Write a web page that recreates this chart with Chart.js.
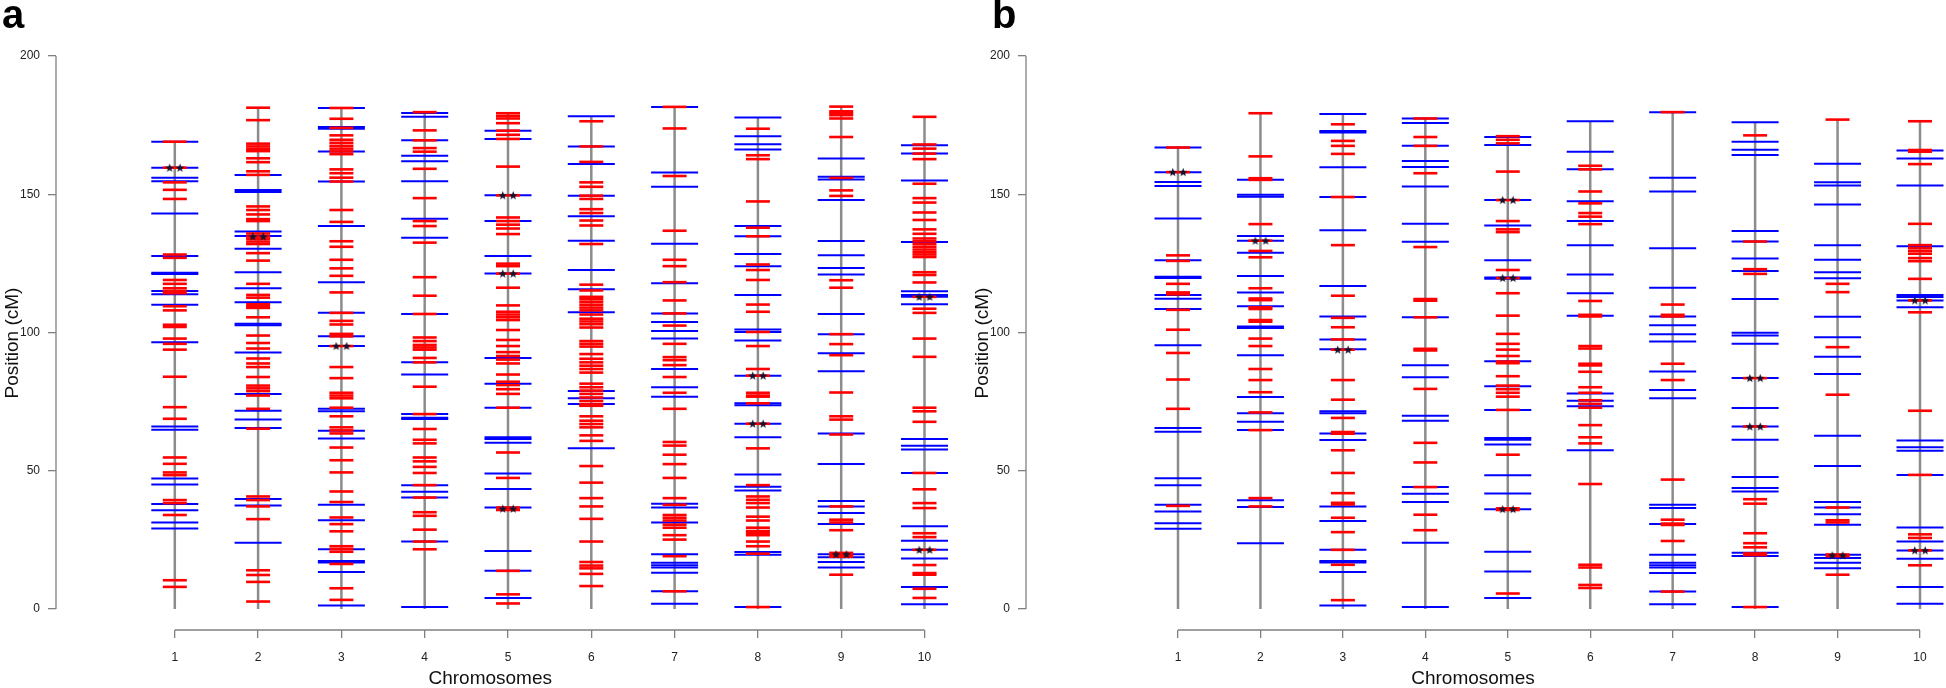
<!DOCTYPE html>
<html><head><meta charset="utf-8">
<script src="https://cdn.jsdelivr.net/npm/chart.js@4.4.1/dist/chart.umd.min.js"></script>
<style>
html,body{margin:0;padding:0;background:#fff;}
#wrap{position:relative;width:1946px;height:688px;overflow:hidden;background:#fff;}
canvas{position:absolute;top:0;}
.tag{position:absolute;font-family:'Liberation Sans',Arial,sans-serif;font-weight:bold;font-size:40px;line-height:40px;color:#000;}
</style></head><body>
<div id="wrap">
<canvas id="ca" width="950" height="688" style="left:0px"></canvas>
<canvas id="cb" width="996" height="688" style="left:950px"></canvas>
<div class="tag" style="left:2px;top:-6px">a</div>
<div class="tag" style="left:992px;top:-6px">b</div>
</div>
<script>
// ---------------- data ----------------
const chromosomes = [1, 2, 3, 4, 5, 6, 7, 8, 9, 10];
const xTickLabels = ['1', '2', '3', '4', '5', '6', '7', '8', '9', '10'];
const yTickValues = [0, 50, 100, 150, 200];
const yTickLabels = ['0', '50', '100', '150', '200'];
const xTitle = 'Chromosomes';
const yTitle = 'Position (cM)';

// Panel a: marker positions (cM) per chromosome
const aBlue = [
  [169, 159.6, 156, 154.7, 143, 127.7, 121.6, 121.2, 115, 113.8, 110, 96.5, 66, 64.8, 47.2, 45, 38, 35.7, 31.3, 29.1],
  [157, 151.5, 150.8, 136.5, 134.9, 130.3, 121.8, 116, 110.9, 103.2, 102.6, 92.8, 77.8, 71.7, 68.5, 65.5, 39.8, 37.4, 24],
  [181.2, 174.3, 173.7, 165.5, 154.6, 138.5, 118.2, 107.1, 98.6, 95.1, 72.4, 71.5, 64.5, 61.7, 37.7, 32.1, 21.6, 17.4, 16.8, 13.4, 1.3],
  [179.4, 178, 169.5, 163.9, 161.9, 154.7, 141.1, 134.3, 106.7, 89.2, 84.8, 70.5, 69.2, 68.7, 44.8, 42.4, 40.3, 24.4, 0.7],
  [173, 170, 149.6, 140.3, 127.7, 121.3, 90.8, 81.5, 72.8, 62.1, 61.5, 60.1, 49, 43.4, 36.7, 21, 13.8, 4],
  [178.2, 167.3, 160.9, 149.5, 142, 133.2, 122.6, 115.6, 107.3, 78.8, 76.2, 74.1, 58.1],
  [181.6, 157.9, 152.7, 132.1, 117.8, 106.9, 103.8, 100.5, 97.8, 86.8, 80.2, 76.8, 38.1, 36.7, 31.3, 19.8, 16.7, 15.8, 15, 13.1, 6.4, 1.9],
  [177.8, 171, 168.1, 166.2, 138.5, 134.8, 128.4, 124, 113.6, 101.1, 100.2, 97.1, 84.4, 74.4, 73.7, 67, 62.1, 48.6, 44.2, 42.9, 20.6, 19.6, 0.7],
  [162.9, 156.3, 155.3, 147.9, 133.1, 127.9, 123.3, 121, 106.7, 99.4, 92.5, 86, 63.5, 52.4, 39.1, 37.1, 34.7, 30.7, 19.8, 18.7, 17, 15],
  [167.7, 164.7, 155, 132.7, 114.9, 113.6, 112.9, 110.2, 61.5, 59, 57.7, 49.2, 29.9, 24.7, 21.4, 18.3, 8, 1.7]
];
const aRed = [
  [169, 159.6, 154.3, 151.6, 148.3, 128.2, 127, 119, 117.6, 116, 115, 114.2, 109.5, 108, 102.8, 102, 97.8, 95.9, 93.8, 84, 73, 68.8, 54.8, 52.5, 49.4, 48.4, 39.4, 38.3, 34, 10.4, 8],
  [181.3, 176.8, 168.3, 167.3, 166.4, 165.6, 163, 161.6, 158.3, 157, 145.6, 144.3, 142.7, 141, 140.3, 135.8, 134.7, 133.9, 132.9, 132, 128.7, 126, 117.6, 113.6, 112.6, 110.2, 109.5, 108.9, 105.5, 98.9, 96.2, 94.2, 90.6, 88.8, 87.5, 83.9, 80.8, 79.8, 78.8, 77.2, 72.4, 65.2, 40.7, 39.4, 37.1, 32.5, 14, 12.3, 9.8, 2.7],
  [181.2, 177.3, 174, 171.3, 169.7, 168.6, 167.5, 166.5, 165.5, 164.5, 159, 157.6, 156, 154.6, 144.3, 140, 133, 131, 126.3, 123.2, 120.5, 114.5, 107.1, 104.2, 102.9, 99.5, 98.6, 95.1, 87.5, 83.5, 78.2, 77.2, 76.2, 72.8, 69.7, 65.7, 64.6, 63.5, 58.4, 53.8, 49.4, 42.5, 38.7, 33.1, 30.7, 28.1, 22.7, 21.7, 20.7, 16.3, 7.5, 3.3],
  [179.7, 173.1, 169.5, 166.7, 165.4, 159.2, 148.6, 140.3, 138.5, 132.5, 120, 113.3, 106.7, 98.2, 96.9, 95.5, 94.6, 93.8, 90.8, 89.2, 80.4, 70.5, 65.1, 61.2, 59.9, 54.8, 53.4, 51.4, 49.2, 44.8, 40.3, 35, 33.7, 28.7, 24.4, 21.6],
  [179.3, 178.3, 177.4, 175.7, 173, 171.5, 170, 160, 149.6, 141.6, 140.3, 139, 137.6, 135.6, 124.9, 124, 121.3, 116.2, 109.8, 107.5, 106.5, 105.5, 104.5, 100.9, 97.3, 95.1, 92.9, 91.5, 90.2, 88.8, 84.8, 82.2, 81, 79.5, 77.8, 72.8, 56.6, 47.4, 36.7, 35.8, 13.8, 5.3, 2],
  [176.4, 167.3, 161.7, 154.3, 152.7, 149.5, 148.3, 144.6, 143.2, 140.5, 138.7, 132, 117.3, 115.2, 112.9, 112, 111, 110, 109, 108, 106.5, 105, 104, 103, 101.8, 96.9, 95.9, 94.9, 92.2, 90.5, 89.2, 88, 86.8, 85.5, 81.5, 80.2, 79, 77.8, 76.5, 75.2, 74, 73.5, 69.7, 68.1, 66.9, 65.7, 62.8, 60.8, 51.7, 45.7, 40.1, 37.1, 32.6, 24.4, 17, 15.7, 14.7, 12.7, 8.3],
  [181.6, 173.8, 156.6, 136.8, 126.3, 124, 118.2, 111.6, 106.9, 102.5, 95.9, 91.1, 90, 88.2, 83.9, 78.2, 72.4, 60.4, 59.1, 55.8, 52.4, 47.4, 40.1, 37.7, 34, 33, 32, 30.5, 29.4, 26.7, 25.1, 19.1, 6.4],
  [173.7, 164.1, 162.7, 147.4, 137.9, 134.8, 124.6, 122.6, 119, 110.1, 107.5, 100.2, 95.1, 86.8, 84.4, 78.2, 77.2, 76.8, 74.4, 67, 58.1, 44.8, 40.7, 39.5, 38.3, 36.7, 33.4, 32, 29.4, 28.2, 27.5, 26.7, 24.4, 22.7, 20, 0.7],
  [181.7, 180, 179.3, 178.6, 177.4, 170.7, 155.9, 151.4, 149.4, 118.9, 116.2, 99.4, 95.8, 91.8, 78.3, 69.7, 68.5, 63.1, 37.1, 32.3, 31.3, 28.5, 20.3, 19.5, 18.9, 12.4],
  [178, 168, 166.5, 164.7, 162.7, 153.8, 148.6, 147, 143.4, 140.7, 137.3, 135.7, 134, 133, 132, 131, 130, 129, 128.2, 127.3, 121.8, 120.8, 118.1, 112.9, 108.6, 107.1, 97.8, 91.2, 72.8, 71.5, 67.7, 49.2, 43.3, 38.3, 36.5, 27.4, 26, 21.4, 15.9, 13, 12.4, 7.3, 4]
];
const aStars = [[159.6], [134.7], [95.1], [], [149.6, 121.3, 36.3], [], [], [84.4, 67], [19.8], [112.9, 21.4]];

// Panel b
const bBlue = [
  [166.9, 158, 154.4, 153, 141.2, 126.1, 120.2, 119.7, 113.6, 112.2, 108.5, 95.4, 65.5, 64.1, 47.3, 44.8, 37.7, 35.3, 31, 29],
  [155.2, 149.8, 149.1, 134.9, 133.2, 128.8, 120.4, 114.5, 109.5, 102.2, 101.6, 91.8, 76.7, 70.8, 67.7, 64.7, 39.3, 36.9, 23.8],
  [179, 172.9, 172.3, 159.8, 149, 137, 116.8, 105.8, 97.5, 93.9, 71.5, 70.8, 63.5, 61.1, 37.1, 31.8, 21.4, 17.4, 16.8, 13.4, 1.3],
  [177.4, 175.8, 167.5, 162, 159.9, 152.8, 139.3, 132.8, 105.5, 88.2, 83.8, 69.9, 68.1, 44.1, 41.7, 38.7, 24, 0.7],
  [170.7, 167.8, 147.9, 138.7, 126.1, 119.9, 119.4, 89.6, 80.6, 72, 61.8, 61.2, 59.5, 48.4, 41.8, 36.1, 20.7, 13.6, 4],
  [176.4, 165.4, 159, 147.5, 140.3, 131.6, 121, 114.2, 106.1, 77.9, 75.3, 73.3, 57.4],
  [179.7, 156, 151, 130.5, 116.2, 105.8, 102.6, 99.4, 96.7, 85.9, 79.2, 76.2, 37.7, 36.5, 30.7, 19.6, 16.7, 15.8, 15, 13, 6.3, 1.7],
  [176, 169, 166.1, 164.2, 136.7, 132.9, 126.8, 122.2, 112.1, 99.9, 98.9, 95.9, 83.5, 72.7, 66, 61.2, 47.7, 43.8, 42.5, 20.3, 19.2, 0.7],
  [161, 154.3, 153.2, 146.3, 131.6, 126.3, 121.8, 119.6, 105.7, 98.3, 91.2, 85, 62.7, 51.7, 38.7, 36.7, 34.3, 30.5, 19.6, 18.4, 16.7, 14.7],
  [165.8, 162.9, 153.2, 131.2, 113.6, 112.8, 111.6, 109.1, 60.9, 58.5, 57.2, 48.5, 29.5, 24.4, 21.2, 18.2, 8, 1.9]
];
const bRed = [
  [166.9, 158, 127.9, 125.9, 117.6, 114.5, 113.8, 108.2, 101, 92.6, 83, 72.4, 37.3],
  [179.3, 163.7, 155.8, 155.2, 139.2, 133.2, 129.5, 127.2, 116, 112.3, 111.7, 109.1, 108.5, 104.5, 103.9, 97.8, 95.1, 86.8, 82.8, 78.4, 71.1, 64.7, 40.1, 37.1],
  [175.3, 169.3, 167.5, 164.6, 149, 131.6, 113.3, 105.3, 101.9, 97.5, 93.8, 82.8, 75.7, 69.1, 64, 63.4, 57.4, 49.2, 41.9, 38.4, 37.8, 33, 27.8, 21.4, 16, 3.2],
  [177.4, 170.7, 167.5, 157.6, 130.9, 112.1, 111.5, 105.5, 94.1, 93.5, 79.6, 60.1, 53, 44.1, 34.1, 28.5],
  [171, 169.7, 168.4, 158.2, 147.9, 140.3, 137.3, 136.3, 122.6, 119.7, 114.2, 106.1, 99.5, 95.9, 93.8, 91.5, 89.5, 88.9, 84.2, 80.8, 79.5, 78.2, 76.8, 72, 55.8, 36.4, 35.8, 5.6],
  [160.3, 159, 151, 146.7, 143.2, 141.9, 139.2, 111.4, 106.4, 105.8, 95.1, 94.2, 88.7, 88.1, 85.8, 80.2, 78.2, 75.5, 74.2, 72.8, 66.5, 62.1, 59.9, 45.2, 16, 15, 8.7, 7.6],
  [179.7, 110.1, 106.4, 105.8, 88.7, 82.8, 46.8, 32.3, 30.9, 30.4, 24.6, 6.3],
  [171.3, 132.9, 122.9, 121.2, 83.5, 66, 39.7, 38.1, 27.4, 23.8, 22.3, 20.1, 19.5, 0.7],
  [177, 117.6, 114.6, 94.7, 77.5, 36.7, 32.1, 31.3, 19.7, 19.1, 12.4],
  [176.4, 166, 165.4, 160.9, 139.3, 131.6, 130.5, 129.5, 128.5, 126.9, 125.8, 119.4, 111.6, 107.3, 71.7, 48.5, 27, 25.7, 21.2, 15.8]
];
const bStars = [[158], [133.2], [93.8], [], [147.9, 119.7, 36.1], [], [], [83.5, 66], [19.4], [111.6, 21.2]];

// ---------------- styling / layout ----------------
const FONT = "'Liberation Sans', Arial, Helvetica, sans-serif";
const AXIS_GRAY = '#808080';
const CHR_GRAY = '#8c8c8c';
const BLUE = '#0000ff';
const RED = '#ff0000';

const Y_TOP_PX = 56, Y_ZERO_PX = 609, X_AXIS_PX = 630, CANVAS_H = 688;

function makeStarImage() {
  const c = document.createElement('canvas');
  c.width = 26; c.height = 14;
  const g = c.getContext('2d');
  g.fillStyle = '#12122e';
  [7.8, 18.2].forEach(cx => {
    g.beginPath();
    for (let k = 0; k < 10; k++) {
      const r = (k % 2 === 0) ? 4.6 : 1.9;
      const ang = -Math.PI / 2 + k * Math.PI / 5;
      const px = cx + r * Math.cos(ang), py = 7.4 + r * Math.sin(ang);
      if (k === 0) g.moveTo(px, py); else g.lineTo(px, py);
    }
    g.closePath(); g.fill();
  });
  return c;
}
const starImg = makeStarImage();

function toPoints(lists) {
  const pts = [];
  lists.forEach((arr, i) => arr.forEach(v => pts.push({ x: chromosomes[i], y: v })));
  return pts;
}

function buildPanel(canvasId, blue, red, stars, L) {
  const areaLeft = L.padLeft + L.axisW;
  const pxPerUnit = (L.chr10Px - L.chr1Px) / 9;
  const xMin = 1 - (L.chr1Px - areaLeft) / pxPerUnit;
  const xMax = 10 + (L.areaRight - L.chr10Px) / pxPerUnit;
  const pxPerCM = (Y_ZERO_PX - Y_TOP_PX) / 200;
  const yMin = -(X_AXIS_PX - Y_ZERO_PX) / pxPerCM;

  const datasets = [];
  datasets.push({ type: 'scatter', data: toPoints(stars), pointStyle: starImg, pointRadius: 7, borderWidth: 0, clip: false });
  datasets.push({ type: 'scatter', data: toPoints(red), pointStyle: 'line', pointRadius: 12, pointBorderWidth: 2.6, pointBorderColor: RED, pointBackgroundColor: RED, clip: false });
  datasets.push({ type: 'scatter', data: toPoints(blue), pointStyle: 'line', pointRadius: 23.5, pointBorderWidth: 2, pointBorderColor: BLUE, pointBackgroundColor: BLUE, clip: false });
  chromosomes.forEach((c, i) => {
    const top = Math.max(...blue[i], ...red[i]);
    datasets.push({ type: 'line', data: [{ x: c, y: 0 }, { x: c, y: top }], borderColor: CHR_GRAY, borderWidth: 2.5, pointRadius: 0, clip: false });
  });
  // axis lines (R style): y from 0 to 200 at the left edge, x from first to last chromosome
  datasets.push({ type: 'line', data: [{ x: xMin, y: yTickValues[0] }, { x: xMin, y: yTickValues[yTickValues.length - 1] }], borderColor: AXIS_GRAY, borderWidth: 1.3, pointRadius: 0, clip: false });
  datasets.push({ type: 'line', data: [{ x: chromosomes[0], y: yMin }, { x: chromosomes[chromosomes.length - 1], y: yMin }], borderColor: AXIS_GRAY, borderWidth: 1.3, pointRadius: 0, clip: false });

  return new Chart(document.getElementById(canvasId), {
    type: 'scatter',
    data: { datasets },
    options: {
      responsive: false, animation: false, events: [],
      layout: { padding: { left: L.padLeft, top: Y_TOP_PX, right: L.canvasW - L.areaRight, bottom: 0 } },
      plugins: { legend: { display: false }, tooltip: { enabled: false }, title: { display: false } },
      scales: {
        x: {
          type: 'linear', min: xMin, max: xMax,
          afterBuildTicks: s => { s.ticks = chromosomes.map(v => ({ value: v })); },
          afterFit: s => { s.height = CANVAS_H - X_AXIS_PX; },
          grid: { display: true, drawOnChartArea: false, drawTicks: true, tickLength: 8, color: AXIS_GRAY, lineWidth: 1.3 },
          border: { display: false },
          ticks: { autoSkip: false, maxRotation: 0, minRotation: 0, padding: 12, color: '#222', font: { family: FONT, size: 12 }, callback: (v, i) => xTickLabels[i] },
          title: { display: true, text: xTitle, color: '#111', font: { family: FONT, size: 19, lineHeight: 1 }, padding: { top: 0, bottom: 0 } }
        },
        y: {
          type: 'linear', min: yMin, max: 200,
          afterBuildTicks: s => { s.ticks = yTickValues.map(v => ({ value: v })); },
          afterFit: s => { s.width = L.axisW; },
          grid: { display: true, drawOnChartArea: false, drawTicks: true, tickLength: 8, color: AXIS_GRAY, lineWidth: 1.3 },
          border: { display: false },
          ticks: { padding: 8, color: '#222', font: { family: FONT, size: 12 }, callback: (v, i) => yTickLabels[i] },
          title: { display: true, text: yTitle, color: '#111', font: { family: FONT, size: 19, lineHeight: 1 }, padding: { top: 3, bottom: 0 } }
        }
      }
    }
  });
}

buildPanel('ca', aBlue, aRed, aStars, { canvasW: 950, padLeft: 0, axisW: 56, chr1Px: 175, chr10Px: 926, areaRight: 926 });
buildPanel('cb', bBlue, bRed, bStars, { canvasW: 996, padLeft: 20, axisW: 56, chr1Px: 228, chr10Px: 970, areaRight: 970 });
</script>
</body></html>
